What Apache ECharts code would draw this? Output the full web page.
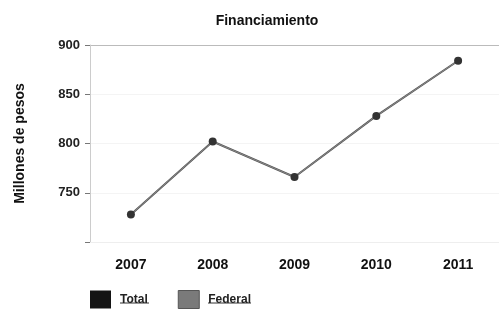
<!DOCTYPE html>
<html>
<head>
<meta charset="utf-8">
<title>Financiamiento</title>
<script src="https://cdn.jsdelivr.net/npm/echarts@6/dist/echarts.min.js"></script>
<style>
  html, body { margin: 0; padding: 0; background: #fff; }
  #chart { width: 499px; height: 309px; }
</style>
</head>
<body>
<div id="chart"></div>
<script>
// datos
const years = ['2007', '2008', '2009', '2010', '2011']
const total = [728, 802, 766, 828, 884]
const federal = [728, 802, 766, 828, 884]
const yTicks = [700, 750, 800, 850, 900]

const font = 'Liberation Sans, Arial, sans-serif'

const chart = echarts.init(document.getElementById('chart'))

const option = {
  animation: false,
  backgroundColor: '#fff',
  title: {
    text: 'Financiamiento',
    left: 262,
    top: 9,
    textAlign: 'center',
    textStyle: { fontFamily: font, fontSize: 14, fontWeight: 'bold', color: '#111' }
  },
  legend: {
    left: 85,
    top: 285,
    itemWidth: 21,
    itemHeight: 18,
    itemGap: 30,
    icon: 'rect',
    data: [
      { name: 'Total', itemStyle: { color: '#141414' } },
      { name: 'Federal', itemStyle: { color: '#7a7a7a', borderColor: '#555', borderWidth: 1 } }
    ],
    textStyle: { fontFamily: font, fontSize: 12, fontWeight: 'bold', color: '#222', padding: [0, 0, 0, 4] }
  },
  grid: {
    left: 90,
    right: -4,
    top: 45,
    bottom: 67
  },
  xAxis: {
    type: 'category',
    data: years,
    boundaryGap: true,
    axisLine: { show: true, lineStyle: { color: '#eee' } },
    axisTick: { show: false },
    axisLabel: {
      margin: 16,
      fontFamily: font,
      fontSize: 14,
      fontWeight: 'bold',
      color: '#111'
    }
  },
  yAxis: {
    type: 'value',
    min: yTicks[0],
    max: yTicks[yTicks.length - 1],
    interval: 50,
    name: 'Millones de pesos',
    nameLocation: 'middle',
    nameRotate: 90,
    nameGap: 63,
    nameTextStyle: { fontFamily: font, fontSize: 14, fontWeight: 'bold', color: '#111' },
    axisLine: { show: true, lineStyle: { color: '#ccc', width: 1 } },
    axisTick: { show: true, length: 5, lineStyle: { color: '#777' } },
    axisLabel: {
      margin: 10,
      fontFamily: font,
      fontSize: 13,
      fontWeight: 'bold',
      color: '#222',
      formatter: v => (v === yTicks[0] ? '' : v)
    },
    splitLine: {
      show: true,
      lineStyle: { color: ['#f0f0f0', '#f4f4f4', '#f4f4f4', '#f4f4f4', '#bbb'] }
    }
  },
  series: [
    {
      name: 'Total',
      type: 'line',
      data: total,
      symbol: 'circle',
      symbolSize: 8,
      itemStyle: { color: '#333' },
      lineStyle: { color: '#555', width: 2 }
    },
    {
      name: 'Federal',
      type: 'line',
      data: federal,
      symbol: 'none',
      itemStyle: { color: '#777' },
      lineStyle: { color: '#888', width: 1 }
    }
  ],
  graphic: [
    // subrayado de la leyenda
    { type: 'line', shape: { x1: 120, y1: 303, x2: 149, y2: 303 }, style: { stroke: '#333', lineWidth: 1 } },
    { type: 'line', shape: { x1: 208, y1: 303, x2: 251, y2: 303 }, style: { stroke: '#333', lineWidth: 1 } }
  ]
}

chart.setOption(option)
</script>
</body>
</html>
